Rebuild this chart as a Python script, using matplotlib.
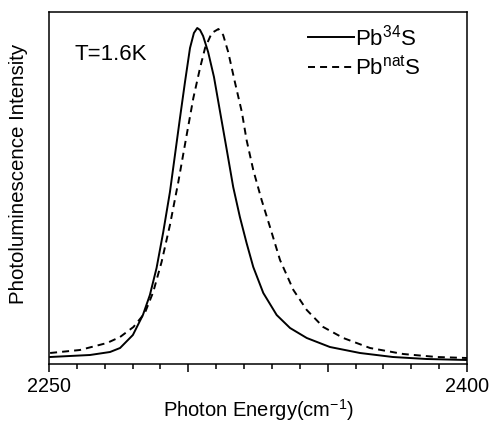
import numpy as np
import matplotlib
matplotlib.use('Agg')
import matplotlib.pyplot as plt
from matplotlib.ticker import MultipleLocator, FixedLocator

plt.rcParams['font.family'] = ['Liberation Sans', 'DejaVu Sans']
plt.rcParams['mathtext.fontset'] = 'custom'
plt.rcParams['mathtext.rm'] = 'Liberation Sans'
plt.rcParams['mathtext.it'] = 'Liberation Sans'

# Pb34S spectrum
energy_34 = [2250.4, 2257.5, 2264.7, 2271.9, 2275.5, 2280.1, 2283.7, 2286.2,
             2288.6, 2291.0, 2293.4, 2295.2, 2297.0, 2298.8, 2300.6, 2302.0,
             2303.2, 2304.2, 2305.3, 2307.1, 2309.2, 2311.4, 2313.8, 2316.1,
             2318.5, 2320.9, 2323.3, 2326.9, 2331.7, 2336.5, 2342.5, 2350.8,
             2361.6, 2373.4, 2385.5, 2400.0]
intens_34 = [7, 8, 9, 12, 16, 29, 49, 69,
             96, 132, 172, 209, 246, 282, 316, 331,
             336, 334, 328, 312, 287, 252, 214, 177,
             147, 121, 97, 71, 49, 36, 26, 17,
             11, 7, 5, 4]

# PbnatS spectrum
energy_nat = [2250.4, 2261.1, 2270.8, 2275.5, 2280.3, 2284.4, 2287.4, 2290.4,
              2293.4, 2296.4, 2299.4, 2301.8, 2304.2, 2306.0, 2308.4, 2310.8,
              2312.5, 2314.3, 2316.7, 2319.2, 2320.9, 2323.3, 2326.3, 2329.3,
              2332.9, 2337.7, 2342.5, 2348.4, 2355.6, 2365.2, 2377.1, 2389.1,
              2400.0]
intens_nat = [11, 14, 21, 27, 37, 51, 72, 102,
              139, 182, 229, 266, 296, 316, 331, 335,
              329, 312, 282, 252, 224, 194, 164, 137,
              104, 74, 54, 37, 26, 16, 10, 7,
              6]

fig = plt.figure(figsize=(4.91, 4.22), dpi=100)
ax = fig.add_axes([49/491, 1-364/422, 418/491, 352/422])

ax.plot(energy_34, intens_34, color='black', lw=1.4, label=r'Pb$^{34}$S')
ax.plot(energy_nat, intens_nat, color='black', lw=1.4, dashes=(3.6, 2.6),
        label=r'Pb$^{\mathrm{nat}}$S')

ax.set_xlim(2250, 2400)
ax.set_ylim(0, 352)

ax.xaxis.set_major_locator(FixedLocator([2250, 2300, 2350, 2400]))
ax.xaxis.set_minor_locator(MultipleLocator(10))
ax.set_xticklabels(['2250', '', '', '2400'])
ax.tick_params(axis='x', which='major', direction='out', length=6, width=1.1,
               labelsize=14.2, pad=3)
ax.tick_params(axis='x', which='minor', direction='out', length=3.6, width=1.1)
ax.tick_params(axis='y', left=False, labelleft=False)
for sp in ax.spines.values():
    sp.set_linewidth(1.1)

ax.set_xlabel(r'Photon Energy(cm$^{\mathrm{-1}}$)', fontsize=14.5, labelpad=1)
ax.set_ylabel('Photoluminescence Intensity', fontsize=14.8)
ax.yaxis.set_label_coords(-0.05, 0.54)

ax.text(0.062, 0.88, 'T=1.6K', transform=ax.transAxes, fontsize=16,
        va='center', ha='left')

ax.legend(loc='upper right', bbox_to_anchor=(0.89, 0.965), frameon=False,
          fontsize=16, handlelength=2.1, handletextpad=0.05, labelspacing=0.25,
          borderpad=0, borderaxespad=0)

fig.savefig('out.png', dpi=100)
